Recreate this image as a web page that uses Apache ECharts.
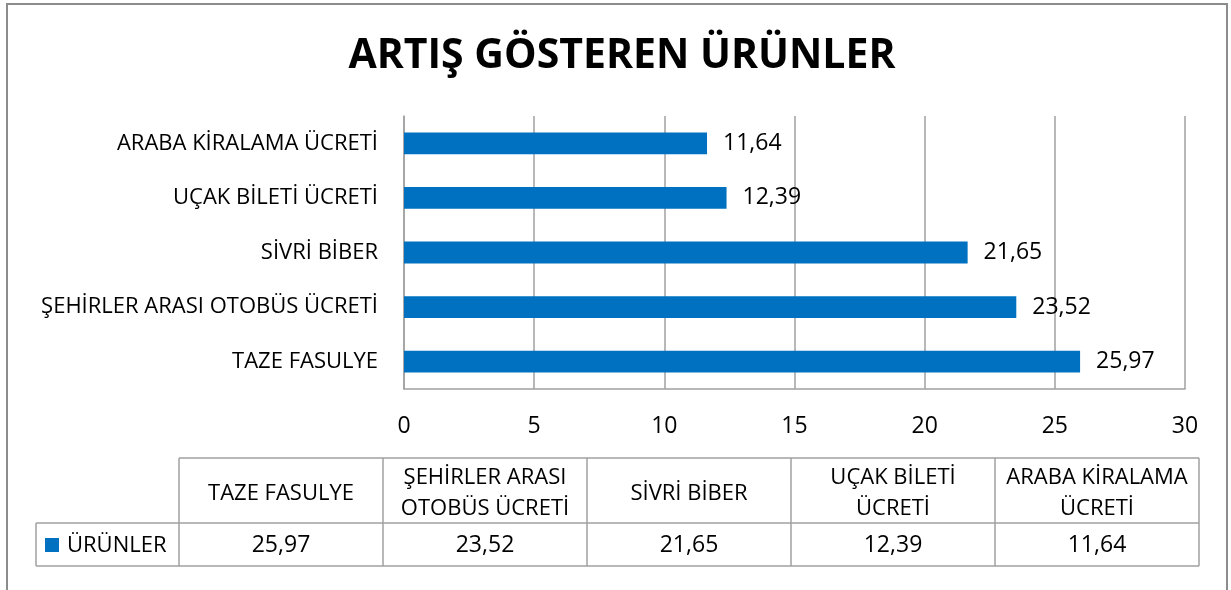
<!DOCTYPE html>
<html>
<head>
<meta charset="utf-8">
<script src="https://cdn.jsdelivr.net/npm/echarts@6/dist/echarts.min.js"></script>
<style>
  html, body { margin: 0; padding: 0; background: #fff; }
  #chart { width: 1231px; height: 590px; }
</style>
</head>
<body>
<div id="chart"></div>
<script>
// data, bottom to top as on the y axis
const categories = ["TAZE FASULYE", "ŞEHİRLER ARASI OTOBÜS ÜCRETİ", "SİVRİ BİBER", "UÇAK BİLETİ ÜCRETİ", "ARABA KİRALAMA ÜCRETİ"];
const values = [25.97, 23.52, 21.65, 12.39, 11.64];
const tableHeaders = ["TAZE FASULYE", "ŞEHİRLER ARASI\nOTOBÜS ÜCRETİ", "SİVRİ BİBER", "UÇAK BİLETİ\nÜCRETİ", "ARABA KİRALAMA\nÜCRETİ"];
const seriesName = "ÜRÜNLER";
const xTicks = [0, 5, 10, 15, 20, 25, 30];

const BLUE = "#0070c0";
const LINE = "#a0a0a0";
const FONT = "'Open Sans', sans-serif";
const fmt = (v) => v.toFixed(2).replace(".", ",");

// data table under the chart
const colX = [179, 383, 587, 791, 995, 1199];
const rowY = [458, 523, 566];
const legendLeft = 36;

let graphic = [
    {
        type: "rect",
        shape: { x: 7, y: 4, width: 1220, height: 600 },
        style: { fill: "none", stroke: "#8c8c8c", lineWidth: 2 },
        silent: true,
    },
];

// horizontal table lines
graphic.push({ type: "line", shape: { x1: colX[0], y1: rowY[0], x2: colX[5], y2: rowY[0] }, style: { stroke: LINE, lineWidth: 1.5 } });
graphic.push({ type: "line", shape: { x1: legendLeft, y1: rowY[1], x2: colX[5], y2: rowY[1] }, style: { stroke: LINE, lineWidth: 1.5 } });
graphic.push({ type: "line", shape: { x1: legendLeft, y1: rowY[2], x2: colX[5], y2: rowY[2] }, style: { stroke: LINE, lineWidth: 1.5 } });
// vertical table lines
graphic.push({ type: "line", shape: { x1: legendLeft, y1: rowY[1], x2: legendLeft, y2: rowY[2] }, style: { stroke: LINE, lineWidth: 1.5 } });
colX.forEach((x) => {
    graphic.push({ type: "line", shape: { x1: x, y1: rowY[0], x2: x, y2: rowY[2] }, style: { stroke: LINE, lineWidth: 1.5 } });
});

tableHeaders.forEach((h, i) => {
    const cx = (colX[i] + colX[i + 1]) / 2;
    graphic.push({
        type: "text",
        x: cx,
        y: (rowY[0] + rowY[1]) / 2 + 3,
        style: { text: h, fill: "#000", font: "22px " + FONT, align: "center", verticalAlign: "middle", lineHeight: 31 },
    });
    graphic.push({
        type: "text",
        x: cx,
        y: (rowY[1] + rowY[2]) / 2 + 1,
        style: { text: fmt(values[i]), fill: "#000", font: "23px " + FONT, align: "center", verticalAlign: "middle" },
    });
});

// legend cell
graphic.push({ type: "rect", shape: { x: 45, y: 538, width: 14, height: 14 }, style: { fill: BLUE } });
graphic.push({
    type: "text",
    x: 67,
    y: (rowY[1] + rowY[2]) / 2 + 1,
    style: { text: seriesName, fill: "#000", font: "22px " + FONT, align: "left", verticalAlign: "middle" },
});

const chart = echarts.init(document.getElementById("chart"));
chart.setOption({
    animation: false,
    backgroundColor: "#fff",
    title: {
        text: "ARTIŞ GÖSTEREN ÜRÜNLER",
        left: 617,
        top: 31,
        textAlign: "center",
        textStyle: { fontFamily: FONT, fontWeight: "bold", fontSize: 41, color: "#000" },
    },
    grid: {
        left: 404,
        right: 46,
        top: 116,
        bottom: 201,
        containLabel: false,
    },
    xAxis: {
        type: "value",
        min: 0,
        max: 30,
        interval: 5,
        axisLine: { show: true, lineStyle: { color: LINE, width: 1.5 } },
        axisTick: { show: false },
        splitLine: { show: true, lineStyle: { color: LINE, width: 1.5 } },
        axisLabel: { color: "#000", fontFamily: FONT, fontSize: 23, margin: 26 },
    },
    yAxis: {
        type: "category",
        data: categories,
        axisLine: { show: true, lineStyle: { color: LINE, width: 1.5 } },
        axisTick: { show: false },
        axisLabel: { color: "#000", fontFamily: FONT, fontSize: 22, margin: 26 },
    },
    series: [
        {
            name: seriesName,
            type: "bar",
            data: values,
            barWidth: "40%",
            itemStyle: { color: BLUE },
            label: {
                show: true,
                position: "right",
                distance: 16,
                color: "#000",
                fontFamily: FONT,
                fontSize: 23,
                formatter: (p) => fmt(p.value),
            },
        },
    ],
    graphic: graphic,
});
</script>
</body>
</html>
